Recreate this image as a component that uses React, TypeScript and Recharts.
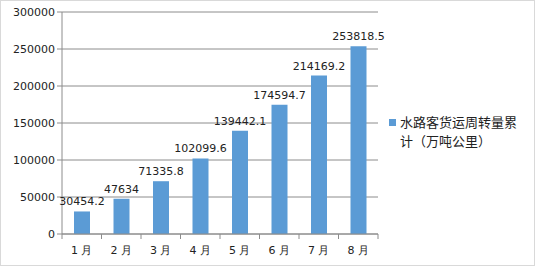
import React from 'react';
import {
  BarChart,
  Bar,
  XAxis,
  YAxis,
  CartesianGrid,
  LabelList
} from 'recharts';

const months = ['1月', '2月', '3月', '4月', '5月', '6月', '7月', '8月'];
const turnover = [30454.2, 47634, 71335.8, 102099.6, 139442.1, 174594.7, 214169.2, 253818.5];
const yTicks = [0, 50000, 100000, 150000, 200000, 250000, 300000];
const seriesName = '水路客货运周转量累计（万吨公里）';

const data = months.map((m, i) => ({ month: m, value: turnover[i] }));

const BAR_COLOR = '#5B9BD5';
const AXIS_COLOR = '#8c8c8c';
const FONT = '"DejaVu Sans", sans-serif';

// x tick: label under the category, tick marks on the category boundaries
function MonthTick(props: any) {
  const { x, y, payload, index } = props;
  const half = 316 / months.length / 2;
  return (
    <g>
      <line x1={x - half} y1={y - 8} x2={x - half} y2={y - 3} stroke={AXIS_COLOR} />
      {index === months.length - 1 && (
        <line x1={x + half} y1={y - 8} x2={x + half} y2={y - 3} stroke={AXIS_COLOR} />
      )}
      <text x={x} y={y + 12} textAnchor="middle" fill="#222" fontSize={11} fontFamily={FONT}>
        {payload.value.replace('月', ' 月')}
      </text>
    </g>
  );
}

function LegendBox() {
  return (
    <div
      style={{
        position: 'absolute',
        left: 388,
        top: 111,
        width: 140,
        fontFamily: '"Noto Sans CJK SC", sans-serif',
        fontSize: 13,
        lineHeight: '19px',
        color: '#222',
        display: 'flex'
      }}
    >
      <span
        style={{
          display: 'inline-block',
          width: 7,
          height: 7,
          background: BAR_COLOR,
          marginTop: 7,
          marginRight: 4,
          flexShrink: 0
        }}
      />
      <span style={{ width: 120 }}>{seriesName}</span>
    </div>
  );
}

export default function App() {
  return (
    <div
      style={{
        position: 'absolute',
        left: 0,
        top: 0,
        width: 535,
        height: 266,
        boxSizing: 'border-box',
        border: '1px solid #d9d9d9',
        background: '#fff'
      }}
    >
      <BarChart
        width={533}
        height={264}
        data={data}
        margin={{ top: 11, right: 156, bottom: 0, left: 0 }}
        style={{ position: 'absolute', left: 0, top: 0 }}
      >
        <CartesianGrid vertical={false} stroke={AXIS_COLOR} />
        <XAxis
          dataKey="month"
          axisLine={{ stroke: AXIS_COLOR }}
          tickLine={false}
          tick={<MonthTick />}
          interval={0}
          height={31}
        />
        <YAxis
          domain={[0, 300000]}
          ticks={yTicks}
          width={61}
          axisLine={{ stroke: AXIS_COLOR }}
          tickLine={{ stroke: AXIS_COLOR }}
          tickSize={5}
          tick={{ fill: '#222', fontSize: 11, fontFamily: FONT }}
          interval={0}
        />
        <Bar dataKey="value" name={seriesName} fill={BAR_COLOR} barSize={16} isAnimationActive={false}>
          <LabelList
            dataKey="value"
            position="top"
            offset={6}
            style={{ fill: '#222', fontSize: 11, fontFamily: FONT }}
          />
        </Bar>
      </BarChart>
      <LegendBox />
    </div>
  );
}
